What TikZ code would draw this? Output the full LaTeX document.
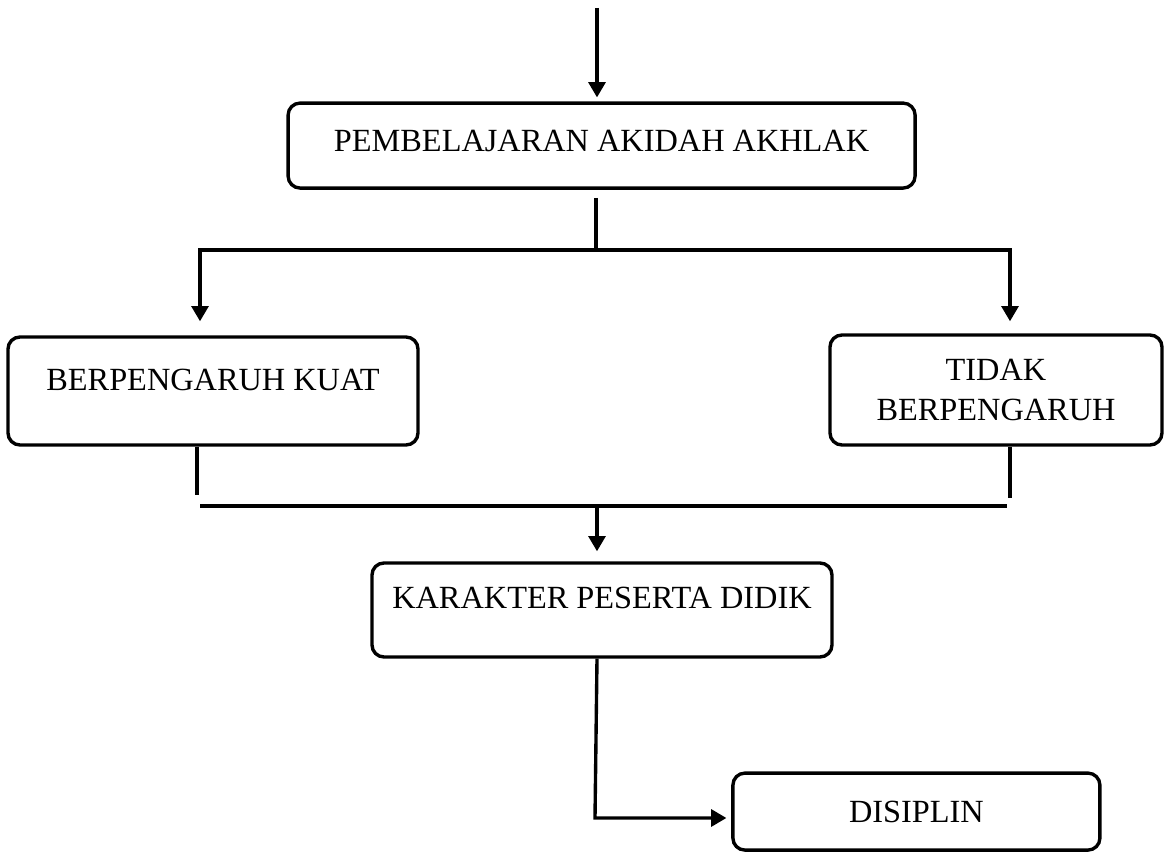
\documentclass[tikz,border=0pt]{standalone}
\usepackage{fontspec}
\setmainfont{Liberation Serif}
\usetikzlibrary{arrows.meta}

\begin{document}
\begin{tikzpicture}[
			box/.style 	= {draw, rounded corners=0.3cm, line width=2.4pt, align=center,
				font=\fontsize{23}{28}\selectfont},
			edge/.style = {line width=2.4pt},
			arr/.style 	= {edge, -{Triangle[width=0.42cm, length=0.38cm]}}]
			\useasboundingbox (0,0) rectangle (29.15,21.3);
			
			\node[box, minimum width=15.675cm, minimum height=2.125cm, text depth=0.225cm] (pbl) at (15.04,17.66) {PEMBELAJARAN AKIDAH AKHLAK};
			\node[box, minimum width=10.25cm, minimum height=2.7cm, text depth=0.55cm] (kuat) at (5.325,11.525) {BERPENGARUH KUAT};
			\node[box, minimum width=8.3cm, minimum height=2.75cm] (tidak) at (24.9,11.55) {TIDAK\\BERPENGARUH};
			\node[box, minimum width=11.5cm, minimum height=2.35cm, text depth=0.6cm] (kar) at (15.05,6.05) {KARAKTER PESERTA DIDIK};
			\node[box, minimum width=9.175cm, minimum height=1.925cm] (dis) at (22.91,1.01) {DISIPLIN};
			
			\coordinate (in) at (14.925,21.1);
			\coordinate (a1) at (14.9,15.05);
			\coordinate (aL) at (5.0,15.05);
			\coordinate (aR) at (25.25,15.05);
			\coordinate (dL) at (4.925,8.925);
			\coordinate (dR) at (25.25,8.85);
			\coordinate (bL) at (5.0,8.65);
			\coordinate (bR) at (25.175,8.65);
			\coordinate (b1) at (14.925,8.65);
			\coordinate (c1) at (14.875,0.85);
			
			\draw[arr, shorten >=0.1cm] (in) -- (in |- pbl.north);
			\draw[edge, shorten <=0.2cm] (a1 |- pbl.south) -- (a1);
			\draw[arr, shorten >=0.35cm] (a1) -- (aL) -- (aL |- kuat.north);
			\draw[arr, shorten >=0.3cm] (a1) -- (aR) -- (aR |- tidak.north);
			\draw[edge] (dL |- kuat.south) -- (dL);
			\draw[edge] (dR |- tidak.south) -- (dR);
			\draw[edge] (bL) -- (bR);
			\draw[arr, shorten >=0.25cm] (b1) -- (b1 |- kar.north);
			\draw[arr, shorten >=0.12cm] (b1 |- kar.south) -- (c1) -- (c1 -| dis.west);
\end{tikzpicture}
\end{document}
